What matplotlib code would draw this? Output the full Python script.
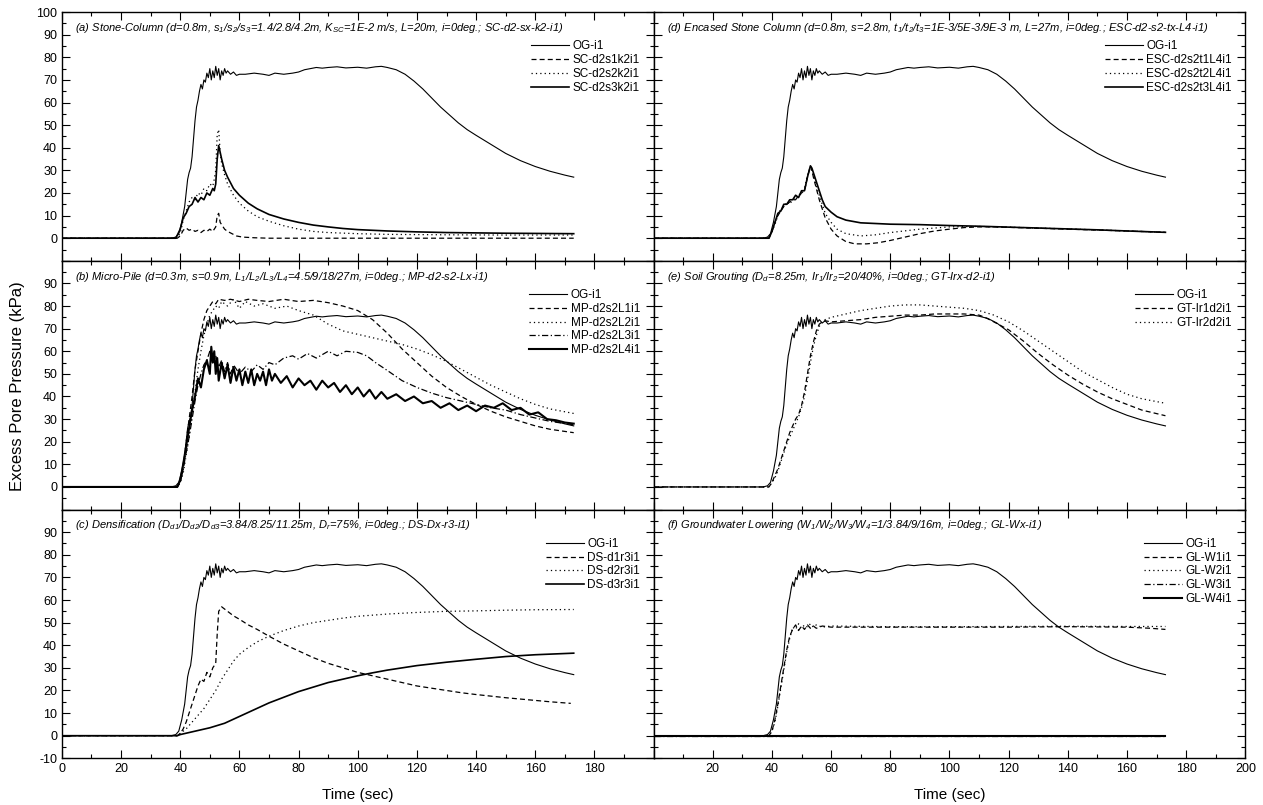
import numpy as np
import matplotlib
matplotlib.use("Agg")
import matplotlib.pyplot as plt
from matplotlib.ticker import MultipleLocator

plt.rcParams['font.family'] = ['Liberation Sans', 'DejaVu Sans']
plt.rcParams['mathtext.fontset'] = 'custom'
plt.rcParams['mathtext.rm'] = 'Liberation Sans:italic'
plt.rcParams['mathtext.it'] = 'Liberation Sans:italic'
plt.rcParams['mathtext.sf'] = 'Liberation Sans:italic'

# (time sec, excess pore pressure kPa)
og = [(0, 0), (37, 0), (38.5, 0.5), (39.5, 2), (40.5, 7), (41.5, 14), (42, 20), (42.5, 26), (43, 29), (43.5, 31),
      (44, 36), (44.5, 44), (45, 52), (45.5, 58), (46, 61), (46.5, 65), (47, 68), (47.5, 66), (48, 70), (48.5, 69),
      (49, 73), (49.5, 71), (50, 75), (50.5, 70), (51, 74), (51.5, 71), (52, 76), (52.5, 72), (53, 75), (53.5, 70),
      (54, 74), (54.5, 72), (55, 75), (55.5, 73), (56, 74), (57, 72.5), (58, 73.5), (59, 72), (60, 72.5), (62, 72.5),
      (65, 73), (68, 72.5), (70, 72), (72, 73), (75, 72.5), (78, 73), (80, 73.5), (82, 74.5), (84, 75), (86, 75.5),
      (88, 75.2), (90, 75.5), (93, 75.8), (96, 75.3), (100, 75.6), (103, 75.2), (106, 75.8), (108, 76), (110, 75.5),
      (113, 74.5), (116, 72.5), (119, 69.5), (122, 66), (125, 62), (128, 58), (131, 54.5), (134, 51), (137, 48),
      (140, 45.5), (145, 41.5), (150, 37.5), (155, 34.3), (160, 31.7), (165, 29.6), (170, 27.9), (173, 27)]

# (a) stone column
sc1 = [(0, 0), (39, 0), (40, 1), (41, 3.5), (42, 4.5), (43, 3.5), (44, 4), (45, 3), (46, 3.5), (47, 2.5), (48, 3.5),
       (49, 3), (50, 4), (51, 3), (52, 5), (52.5, 10), (53, 11), (53.5, 7), (54, 6), (55, 4), (56, 3), (57.5, 2),
       (59, 1), (61, 0.5), (65, 0.2), (70, 0), (173, 0)]
sc2 = [(0, 0), (38.5, 0), (40, 2), (41, 8), (42, 12), (43, 16), (44, 18), (45, 17), (46, 20), (47, 19), (48, 22),
       (49, 21), (50, 24), (51, 23), (51.5, 26), (52, 30), (52.5, 46), (53, 48), (53.5, 38), (54, 33), (55, 28),
       (56, 24), (58, 19), (60, 15.5), (63, 12), (66, 9.5), (70, 7.5), (75, 5.5), (80, 4), (85, 3), (90, 2.5),
       (100, 2), (110, 1.7), (130, 1.5), (150, 1.4), (173, 1.4)]
sc3 = [(0, 0), (38.5, 0), (40, 4), (41, 9), (42, 11), (43, 14), (44, 15), (45, 18), (46, 16), (47, 18), (48, 17),
       (49, 20), (50, 19), (51, 22), (51.5, 21), (52, 24), (52.5, 35), (53, 41), (53.5, 38), (54, 35), (55, 30),
       (56, 27), (58, 22), (60, 19), (63, 15.5), (66, 13), (70, 10.5), (75, 8.5), (80, 7), (85, 5.8), (90, 5),
       (95, 4.3), (100, 3.8), (110, 3.2), (120, 2.8), (130, 2.5), (150, 2.2), (173, 2)]

# (d) encased stone column
esc1 = [(0, 0), (39, 0), (40, 3), (41, 7), (42, 10), (43, 12), (44, 14), (45, 15), (46, 16), (47, 17), (48, 17),
        (49, 19), (50, 20), (51, 21), (52, 27), (53, 32), (53.5, 30), (54, 27), (55, 22), (56, 17), (57, 13),
        (58, 9), (60, 4), (62, 1), (65, -1.5), (68, -2.5), (72, -2.5), (76, -2), (80, -1), (85, 0.5), (90, 2),
        (95, 3.2), (100, 4), (105, 4.7), (110, 5), (115, 5), (120, 4.8), (130, 4.4), (140, 4), (150, 3.6),
        (160, 3.2), (173, 2.6)]
esc2 = [(0, 0), (39, 0), (40, 3), (41, 6), (42, 10), (43, 13), (44, 14), (45, 16), (46, 15), (47, 17), (48, 18),
        (49, 18), (50, 20), (51, 22), (52, 28), (53, 31), (53.5, 30), (54, 28), (55, 23), (56, 19), (57, 15),
        (58, 11), (60, 7), (62, 4), (65, 2), (70, 1), (75, 1.5), (80, 2.5), (90, 4), (100, 5), (110, 5.2),
        (120, 4.9), (130, 4.5), (140, 4.1), (150, 3.7), (160, 3.2), (173, 2.6)]
esc3 = [(0, 0), (39, 0), (40, 3), (41, 7), (42, 11), (43, 12), (44, 15), (45, 15), (46, 17), (47, 17), (48, 19),
        (49, 18), (50, 21), (51, 21), (52, 27), (53, 32), (53.5, 31), (54, 29), (55, 25), (56, 21), (57, 17),
        (58, 14), (60, 11.5), (62, 9.5), (65, 8), (70, 6.8), (80, 6.2), (90, 6), (100, 5.6), (110, 5.3),
        (120, 4.9), (130, 4.5), (140, 4.1), (150, 3.7), (160, 3.2), (173, 2.6)]

# (b) micro-pile
mp1 = [(0, 0), (39, 0), (40, 2), (41, 8), (42, 20), (43, 30), (44, 40), (45, 52), (46, 60), (47, 68), (48, 74),
       (49, 78), (50, 80), (51, 82), (52, 81), (53, 83), (55, 82.5), (57, 83), (60, 82), (63, 83), (66, 82.5),
       (70, 82), (75, 83), (80, 82), (85, 82.5), (90, 81.5), (95, 80), (100, 78), (105, 74), (110, 68), (115, 61),
       (120, 55), (125, 49), (130, 44), (135, 40), (140, 36.5), (145, 33.5), (150, 31), (155, 29), (160, 27),
       (165, 25.5), (173, 24)]
mp2 = [(0, 0), (39, 0), (40, 2), (41, 6), (42, 14), (43, 22), (44, 32), (45, 42), (46, 52), (47, 60), (48, 67),
       (49, 72), (50, 76), (51, 78), (52, 80), (53, 79), (54, 82), (56, 80), (58, 83), (60, 79), (62, 82), (65, 80),
       (68, 81), (72, 79), (76, 80), (80, 78), (85, 76), (90, 72), (95, 69), (100, 67.5), (105, 66), (110, 64.5),
       (115, 63), (120, 61), (125, 58.5), (130, 55.5), (135, 52), (140, 48.5), (145, 45), (150, 42), (155, 39),
       (160, 36.5), (165, 34.5), (173, 32.5)]
mp3 = [(0, 0), (39, 0), (40, 2), (41, 8), (42, 15), (43, 22), (44, 30), (45, 38), (46, 45), (47, 50), (48, 54),
       (49, 56), (50, 60), (51, 55), (52, 58), (53, 53), (54, 56), (55, 51), (56, 55), (57, 50), (58, 54), (60, 50),
       (62, 53), (64, 51), (66, 54), (68, 52), (70, 55), (72, 54), (75, 57), (78, 58), (80, 56.5), (83, 59),
       (86, 57), (90, 60), (93, 58), (96, 60), (100, 59.5), (103, 58), (106, 55), (110, 51.5), (115, 47), (120, 44),
       (125, 41.5), (130, 39.5), (135, 38), (140, 36.5), (145, 35), (150, 34), (155, 32), (160, 30.5), (165, 29),
       (173, 27.5)]
mp4 = [(0, 0), (39, 0), (40, 3), (41, 10), (42, 18), (43, 26), (44, 34), (45, 40), (46, 48), (47, 44), (48, 52),
       (49, 56), (50, 50), (50.5, 62), (51, 55), (51.5, 60), (52, 50), (52.5, 57), (53, 47), (54, 55), (55, 48),
       (56, 54), (57, 46), (58, 53), (59, 47), (60, 52), (61, 45), (62, 51), (63, 46), (64, 52), (65, 45), (66, 50),
       (67, 47), (68, 51), (69, 45), (70, 52), (71, 47), (72, 50), (74, 46), (76, 49), (78, 44), (80, 48), (82, 45),
       (84, 47), (86, 43), (88, 47), (90, 44), (92, 46), (94, 42), (96, 45), (98, 41), (100, 44), (102, 40),
       (104, 43), (106, 39), (108, 42), (110, 39), (113, 41), (116, 38), (119, 40), (122, 37), (125, 38), (128, 35),
       (131, 37), (134, 34), (137, 36), (140, 33.5), (143, 36), (146, 35), (149, 37), (152, 34), (155, 35),
       (158, 32), (161, 33), (164, 30), (167, 29.5), (170, 28.5), (173, 28)]

# (e) soil grouting
gt1 = [(0, 0), (39, 0), (40, 2), (41, 5), (42, 8), (43, 12), (44, 16), (45, 20), (46, 24), (47, 27), (48, 30),
       (49, 32), (50, 36), (51, 42), (52, 50), (53, 58), (54, 64), (55, 69), (56, 72), (57, 73), (58, 73.5),
       (60, 73), (65, 73.5), (70, 74), (75, 75), (80, 75.5), (85, 76), (90, 76), (95, 76.5), (100, 76.5),
       (105, 76.5), (110, 76), (112, 75), (115, 73), (120, 69.5), (125, 64.5), (130, 59), (135, 54), (140, 49.5),
       (145, 45.5), (150, 42), (155, 39), (160, 36.5), (165, 34), (173, 31.5)]
gt2 = [(0, 0), (39, 0), (40, 2), (41, 4), (42, 7), (43, 11), (44, 15), (45, 19), (46, 22), (47, 25), (48, 28),
       (49, 31), (50, 35), (51, 40), (52, 47), (53, 55), (54, 62), (55, 67), (56, 71), (57, 73), (58, 74),
       (60, 75), (65, 76.5), (70, 78), (75, 79), (80, 80), (85, 80.5), (90, 80.5), (95, 80), (100, 79.5), (105, 79),
       (110, 78), (115, 76), (120, 73), (125, 69), (130, 64.5), (135, 60), (140, 55.5), (145, 51), (150, 47.5),
       (155, 44), (160, 41), (165, 39), (173, 37)]

# (c) densification
ds1 = [(0, 0), (39, 0), (40, 1), (41, 3), (42, 6), (43, 10), (44, 14), (45, 18), (46, 22), (47, 25), (48, 24),
       (49, 28), (50, 26), (51, 30), (52, 32), (52.5, 45), (53, 55), (54, 57), (55, 56), (56, 55), (58, 53),
       (60, 51.5), (63, 49), (66, 47), (70, 44), (75, 40.5), (80, 37.5), (85, 34.5), (90, 32), (95, 30), (100, 28),
       (105, 26.5), (110, 25), (115, 23.5), (120, 22), (125, 21), (130, 20), (135, 19), (140, 18.2), (145, 17.5),
       (150, 16.8), (155, 16.2), (160, 15.6), (165, 15), (170, 14.5), (172, 14.3)]
ds2 = [(0, 0), (39, 0), (40, 1), (42, 3), (44, 6), (46, 9), (48, 12), (50, 16), (52, 20), (54, 25), (56, 29),
       (58, 33), (60, 36), (63, 39), (66, 41.5), (70, 44), (75, 46.5), (80, 48.5), (85, 50), (90, 51), (95, 52),
       (100, 52.8), (110, 53.8), (120, 54.5), (130, 55), (140, 55.2), (150, 55.5), (160, 55.7), (173, 55.8)]
ds3 = [(0, 0), (39, 0), (40, 0.5), (45, 2), (50, 3.5), (55, 5.5), (60, 8.5), (65, 11.5), (70, 14.5), (75, 17),
       (80, 19.5), (85, 21.5), (90, 23.5), (95, 25), (100, 26.5), (105, 27.8), (110, 29), (120, 31), (130, 32.5),
       (140, 33.8), (150, 35), (160, 35.8), (173, 36.5)]

# (f) groundwater lowering
gl1 = [(0, 0), (39, 0), (40, 2), (41, 7), (42, 14), (43, 22), (44, 30), (45, 38), (46, 44), (47, 47), (48, 49),
       (49, 46.5), (50, 48.5), (51, 47), (52, 49), (53, 47.5), (54, 48.5), (55, 47.5), (57, 48.5), (60, 48),
       (80, 48), (100, 48), (120, 48), (140, 48.2), (160, 48), (168, 47.5), (173, 47)]
gl2 = [(0, 0), (39, 0), (40, 2), (41, 6), (42, 13), (43, 21), (44, 29), (45, 37), (46, 43), (47, 48), (48, 47),
       (49, 49.5), (50, 47.5), (51, 49), (52, 48), (53, 49.5), (54, 48), (55, 49), (57, 48), (60, 48.5),
       (80, 48.2), (100, 48.2), (120, 48.3), (140, 48.4), (160, 48.3), (173, 48.3)]
gl3 = [(0, 0), (173, 0)]
gl4 = [(0, 0), (173, 0)]

titles = {
    'a': r"(a) Stone-Column (d=0.8m, s$_1$/s$_2$/s$_3$=1.4/2.8/4.2m, K$_{SC}$=1E-2 m/s, L=20m, i=0deg.; SC-d2-sx-k2-i1)",
    'd': r"(d) Encased Stone Column (d=0.8m, s=2.8m, t$_1$/t$_2$/t$_3$=1E-3/5E-3/9E-3 m, L=27m, i=0deg.; ESC-d2-s2-tx-L4-i1)",
    'b': r"(b) Micro-Pile (d=0.3m, s=0.9m, L$_1$/L$_2$/L$_3$/L$_4$=4.5/9/18/27m, i=0deg.; MP-d2-s2-Lx-i1)",
    'e': r"(e) Soil Grouting (D$_d$=8.25m, Ir$_1$/Ir$_2$=20/40%, i=0deg.; GT-Irx-d2-i1)",
    'c': r"(c) Densification (D$_{d1}$/D$_{d2}$/D$_{d3}$=3.84/8.25/11.25m, D$_r$=75%, i=0deg.; DS-Dx-r3-i1)",
    'f': r"(f) Groundwater Lowering (W$_1$/W$_2$/W$_3$/W$_4$=1/3.84/9/16m, i=0deg.; GL-Wx-i1)",
}

DASH = dict(dashes=(4, 2.5), lw=0.9)
DOT = dict(dashes=(1, 2.5), lw=0.9)
DASHDOT = dict(dashes=(5, 2, 1, 2), lw=0.9)
SOLID = dict(ls='-', lw=1.2)
THICK = dict(ls='-', lw=1.5)

panels = {
    'a': [(sc1, 'SC-d2s1k2i1', DASH), (sc2, 'SC-d2s2k2i1', DOT), (sc3, 'SC-d2s3k2i1', SOLID)],
    'd': [(esc1, 'ESC-d2s2t1L4i1', DASH), (esc2, 'ESC-d2s2t2L4i1', DOT), (esc3, 'ESC-d2s2t3L4i1', SOLID)],
    'b': [(mp1, 'MP-d2s2L1i1', DASH), (mp2, 'MP-d2s2L2i1', DOT), (mp3, 'MP-d2s2L3i1', DASHDOT),
          (mp4, 'MP-d2s2L4i1', THICK)],
    'e': [(gt1, 'GT-Ir1d2i1', DASH), (gt2, 'GT-Ir2d2i1', DOT)],
    'c': [(ds1, 'DS-d1r3i1', DASH), (ds2, 'DS-d2r3i1', DOT), (ds3, 'DS-d3r3i1', SOLID)],
    'f': [(gl1, 'GL-W1i1', DASH), (gl2, 'GL-W2i1', DOT), (gl3, 'GL-W3i1', DASHDOT), (gl4, 'GL-W4i1', THICK)],
}
layout = [['a', 'd'], ['b', 'e'], ['c', 'f']]

fig = plt.figure(figsize=(12.63, 8.05), dpi=100)
gs = fig.add_gridspec(3, 2, left=0.049, right=0.986, bottom=0.058, top=0.985, hspace=0, wspace=0)

yt = list(range(-10, 101, 10))
xt = list(range(0, 201, 20))

for r in range(3):
    for c in range(2):
        key = layout[r][c]
        ax = fig.add_subplot(gs[r, c])
        t, v = zip(*og)
        ax.plot(t, v, color='k', lw=0.8, label='OG-i1')
        for data, lab, sty in panels[key]:
            t, v = zip(*data)
            ax.plot(t, v, color='k', label=lab, **sty)
        ax.set_xlim(0, 200)
        ax.set_ylim(-10, 100)
        ax.set_xticks(xt)
        ax.set_yticks(yt)
        ax.xaxis.set_minor_locator(MultipleLocator(10))
        ax.yaxis.set_minor_locator(MultipleLocator(5))
        ax.tick_params(which='both', direction='in', top=True, right=True, labelsize=9)
        ax.tick_params(which='major', length=6, width=0.8)
        ax.tick_params(which='minor', length=3, width=0.8)
        for s in ax.spines.values():
            s.set_linewidth(1.0)

        if c == 0:
            labs = []
            for y in yt:
                if (y == 100 and r > 0) or (y == -10 and r < 2):
                    labs.append('')
                else:
                    labs.append(str(y))
            ax.set_yticklabels(labs)
        else:
            ax.set_yticklabels([])
        if r == 2:
            if c == 0:
                ax.set_xticklabels([str(x) if x < 200 else '' for x in xt])
            else:
                ax.set_xticklabels([str(x) if x > 0 else '' for x in xt])
            ax.set_xlabel('Time (sec)', fontsize=11, labelpad=9)
        else:
            ax.set_xticklabels([])

        ax.text(0.022, 0.965, titles[key], transform=ax.transAxes, fontsize=8, style='italic',
                va='top', ha='left')
        ax.legend(loc='upper right', bbox_to_anchor=(0.985, 0.905), frameon=False, fontsize=8.5,
                  handlelength=3.2, handletextpad=0.3, labelspacing=0.15, borderaxespad=0)

fig.text(0.014, 0.52, 'Excess Pore Pressure (kPa)', rotation=90, va='center', ha='center', fontsize=12)

fig.savefig('out.png', dpi=100)
